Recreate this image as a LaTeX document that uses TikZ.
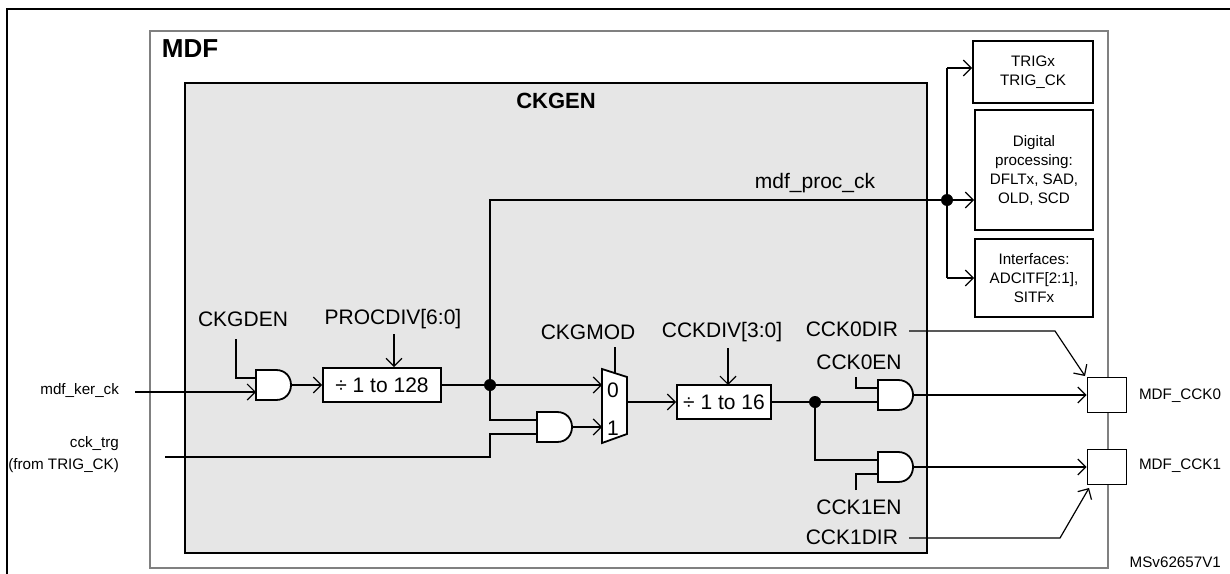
\documentclass[tikz,border=0pt]{standalone}
\usepackage{fontspec}
\setmainfont{Liberation Sans}
\usepackage{tikz}
\usetikzlibrary{calc,arrows.meta}
\definecolor{ckfill}{HTML}{E6E6E6}
\definecolor{mdfline}{HTML}{808080}
\tikzset{
  wire/.style={line width=0.6pt},
  arr/.style={wire, -{Straight Barb[length=4pt,width=8pt]}},
  blk/.style={draw, line width=0.9pt, fill=white},
  lab/.style={font=\fontsize{10.5}{12}\selectfont},
  small/.style={font=\fontsize{7.6}{9.5}\selectfont, align=center},
  dot/.style={circle, fill, inner sep=0pt, minimum size=6pt}
}
% AND gate: name, left x, centre y
\newcommand{\andgate}[3]{%
  \draw[blk] (#2,#3-15) -- (#2+20,#3-15)
    .. controls (#2+40,#3-15) and (#2+40,#3+15) .. (#2+20,#3+15)
    -- (#2,#3+15) -- cycle;
  \coordinate (#1-a) at (#2,#3-7);
  \coordinate (#1-b) at (#2,#3+7);
  \coordinate (#1-o) at (#2+35,#3);
}

\begin{document}
\begin{tikzpicture}[x=0.5pt,y=-0.5pt]
  \useasboundingbox (0,0) rectangle (1230,573);
  \draw[line width=1.4pt] (7,580) -- (7,9) -- (1240,9);

  % MDF and CKGEN frames
  \draw[draw=mdfline, line width=0.9pt] (150,31) rectangle (1108,568);
  \node[font=\bfseries\fontsize{13}{15}\selectfont] (mdf) at (190,49) {MDF};
  \draw[fill=ckfill, line width=0.9pt] (185,83) rectangle (927,553);
  \node[lab, font=\bfseries\fontsize{11}{13}\selectfont] (ckgen) at (556,101) {CKGEN};

  % consumers of mdf_proc_ck
  \node[blk, small, minimum width=60pt, minimum height=31pt] (trig) at (1033,72) {TRIGx\\TRIG\_CK};
  \node[blk, small, minimum width=59pt, minimum height=60pt] (dig) at (1034,170) {Digital\\processing:\\DFLTx, SAD,\\OLD, SCD};
  \node[blk, small, minimum width=59pt, minimum height=39pt] (intf) at (1034,278) {Interfaces:\\ADCITF[2:1],\\SITFx};
  \node[dot] (bus) at (947,200) {};
  \coordinate (bustop) at (947,68);
  \coordinate (busbot) at (947,278);
  \draw[wire] (bustop) -- (busbot);
  \draw[arr] (bustop) -- (trig.west |- bustop);
  \draw[arr] (bus) -- (dig.west |- bus);
  \draw[arr] (busbot) -- (intf.west |- busbot);

  % inputs
  \node[small, anchor=east] (kerlab) at (126,390) {mdf\_ker\_ck};
  \node[small, anchor=east] (trglab) at (126,444) {cck\_trg};
  \node[small, anchor=east] (fromlab) at (126,466) {(from TRIG\_CK)};

  % kernel clock path
  \andgate{gker}{256}{385}
  \node[lab] (ckgden) at (243,319) {CKGDEN};
  \draw[wire] (236,339) |- (gker-a);
  \draw[arr] (135,392) -- (gker-b);
  \node[blk, lab, minimum width=59pt, minimum height=17pt, inner sep=0pt] (div128) at (382,385) {÷ 1 to 128};
  \node[lab] (procdiv) at (393,319) {PROCDIV[6:0]};
  \draw[arr] (394,334) -- (div128.north -| 394,0);
  \draw[arr] (gker-o) -- (div128.west);
  \node[dot] (split) at (490,385) {};
  \draw[wire] (div128.east) -- (split);

  % proc clock
  \node[lab] (proclab) at (815,183) {mdf\_proc\_ck};
  \draw[wire] (split) -- (490,200) -- (bus);

  % trigger gating and mux
  \andgate{gtrg}{537}{427}
  \draw[wire] (split) |- (gtrg-a);
  \draw[wire] (165,457) -- (490,457) |- (gtrg-b);
  \draw[blk] (602,369) -- (627,377) -- (627,434) -- (602,443) -- cycle;
  \node[lab] (mux0) at (613,390) {0};
  \node[lab] (mux1) at (613,428) {1};
  \node[lab] (ckgmod) at (588,332) {CKGMOD};
  \draw[wire] (615,347) -- (615,373);
  \draw[arr] (split) -- (602,385);
  \draw[arr] (gtrg-o) -- (602,427);

  % CCK divider
  \node[blk, lab, minimum width=47pt, minimum height=17pt, inner sep=0pt] (div16) at (724,402) {÷ 1 to 16};
  \node[lab] (cckdiv) at (722,332) {CCKDIV[3:0]};
  \draw[arr] (728,348) -- (728,385);
  \draw[arr] (627,402) -- (div16.west);
  \node[dot] (csplit) at (815,402) {};
  \draw[wire] (div16.east) -- (csplit);

  % CCK0 / CCK1 gates
  \andgate{gc0}{878}{395}
  \andgate{gc1}{878}{467}
  \draw[wire] (csplit) -- (gc0-b);
  \draw[wire] (csplit) |- (gc1-a);
  \node[lab] (cck0en) at (859,362) {CCK0EN};
  \node[lab] (cck1en) at (859,507) {CCK1EN};
  \draw[wire] (856,377) |- (gc0-a);
  \draw[wire] (856,490) |- (gc1-b);

  % pads
  \node[blk, minimum width=19.5pt, minimum height=17.5pt] (pad0) at (1107,395) {};
  \node[blk, minimum width=19.5pt, minimum height=17.5pt] (pad1) at (1107,467) {};
  \node[small, anchor=west] (p0lab) at (1132,396) {MDF\_CCK0};
  \node[small, anchor=west] (p1lab) at (1132,466) {MDF\_CCK1};
  \draw[arr] (gc0-o) -- (pad0.west);
  \draw[arr] (gc1-o) -- (pad1.west);

  % direction controls
  \node[lab, anchor=east] (cck0dir) at (905,329) {CCK0DIR};
  \node[lab, anchor=east] (cck1dir) at (905,537) {CCK1DIR};
  \draw[arr] (cck0dir.east) ++(4,2) -- (1055,331) -- (1085,376);
  \draw[arr] (cck1dir.east) ++(4,1) -- (1060,538) -- (1089,488);

  \node[small, anchor=east] (ref) at (1228,562) {MSv62657V1};
\end{tikzpicture}
\end{document}
